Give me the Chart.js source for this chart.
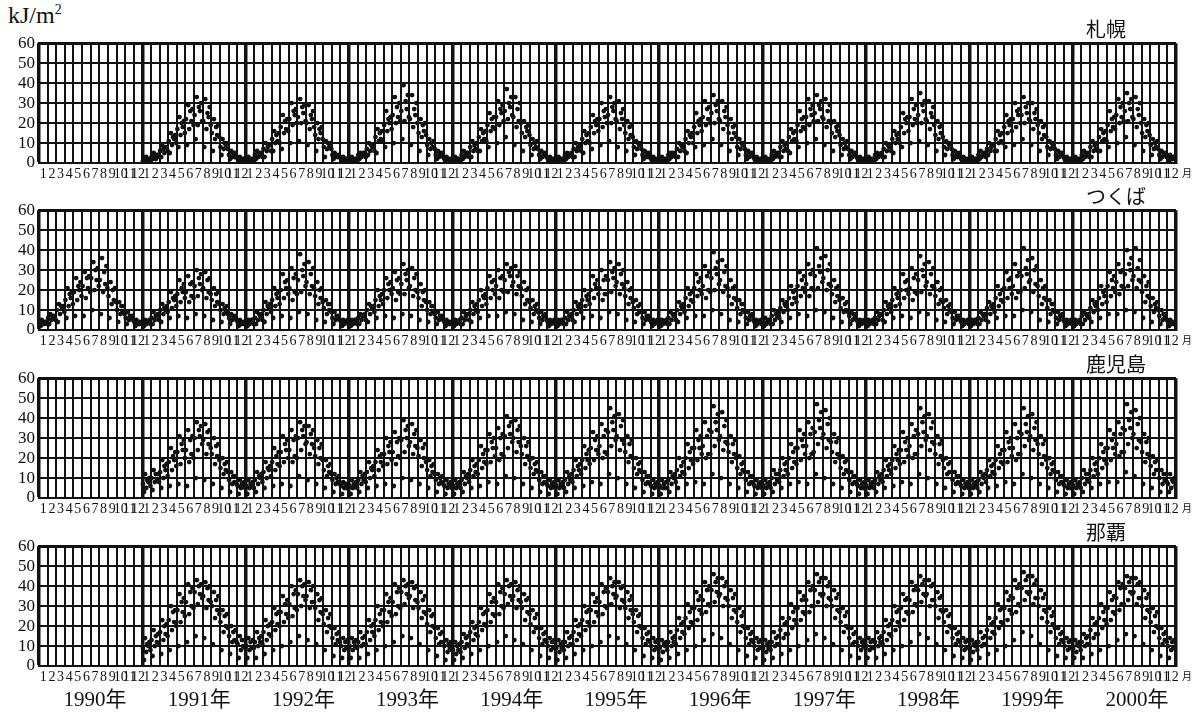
<!DOCTYPE html>
<html>
<head>
<meta charset="utf-8">
<script src="https://cdn.jsdelivr.net/npm/chart.js@4.4.1/dist/chart.umd.min.js"></script>
<style>
  html, body { margin: 0; padding: 0; background: #fff; }
  body { width: 1201px; height: 719px; position: relative; overflow: hidden; }
  .panel { position: absolute; left: 0; width: 1201px; }
  .txt { position: absolute; color: #111; white-space: nowrap; }
  .serif { font-family: "Liberation Serif", "Noto Sans CJK JP", serif; }
  .jp { font-family: "Noto Sans CJK JP", sans-serif; }
</style>
</head>
<body>

<div class="txt serif" style="left:8px; top:2px; font-size:24px;">kJ/m<sup style="font-size:14px;">2</sup></div>

<div id="panels"></div>
<div id="labels"></div>

<script>
// daily values per month (kJ/m2); one array of months per year
const yearLabels = ['1990年', '1991年', '1992年', '1993年', '1994年', '1995年',
  '1996年', '1997年', '1998年', '1999年', '2000年'];
const monthLabels = ['1', '2', '3', '4', '5', '6', '7', '8', '9', '10', '11', '12'];
const stationNames = ['札幌', 'つくば', '鹿児島', '那覇'];

const noData = [[], [], [], [], [], [], [], [], [], [], [], []];

const sapporo = [
  noData, // 1990
  [[1,2,1,3,2,1,2,1],[3,2,5,4,2,4,4,3],[6,3,9,7,5,8,8,6],[11,5,15,9,13,12,14,10],[17,8,23,14,20,18,21,15],[22,9,29,17,26,21,27,19],[24,12,33,19,28,26,30,21],[21,8,32,17,25,23,28,19],[15,6,22,12,18,14,19,13],[8,4,12,7,10,9,10,7],[4,2,6,3,5,3,5,3],[2,1,3,2,1,2,2,1]],
  [[2,1,3,2,1,2,2,1],[4,2,6,3,5,4,5,3],[7,3,10,6,8,9,9,6],[12,6,16,10,14,11,15,10],[18,7,24,15,21,17,22,16],[22,10,30,19,26,24,27,20],[23,11,32,20,28,25,29,21],[20,9,29,17,24,22,26,18],[14,6,20,12,17,15,18,12],[8,3,11,7,10,8,10,7],[4,2,5,3,4,3,4,3],[2,1,3,1,2,2,2,1]],
  [[2,1,3,2,1,2,2,1],[4,2,5,3,4,5,5,3],[7,4,10,6,9,8,9,6],[13,5,17,11,15,12,16,11],[19,8,26,16,22,20,23,17],[24,10,33,20,28,23,30,21],[26,12,39,21,31,27,34,23],[22,9,34,18,27,24,30,20],[15,6,22,13,19,16,20,14],[9,4,12,7,10,8,11,7],[4,2,6,3,5,4,5,3],[2,1,3,2,2,1,2,1]],
  [[2,1,3,1,2,2,2,1],[4,2,6,3,4,5,5,3],[8,3,11,6,9,7,10,6],[13,6,17,11,15,12,16,11],[19,8,25,16,22,18,23,17],[23,10,31,19,27,25,29,21],[26,13,37,22,30,28,33,24],[23,9,33,18,27,21,30,20],[15,6,21,13,18,16,19,14],[9,4,12,7,10,8,11,7],[4,2,6,3,5,4,5,3],[2,1,3,2,1,2,2,1]],
  [[2,1,3,2,1,2,2,1],[4,2,5,3,4,4,5,3],[7,3,10,6,8,8,9,6],[12,5,16,10,14,11,15,10],[18,7,24,15,21,19,22,16],[22,9,30,18,26,23,27,20],[24,11,33,20,28,26,30,22],[21,8,31,17,25,22,27,19],[15,6,21,12,18,14,19,13],[8,4,11,7,10,9,10,7],[4,2,6,3,5,3,5,3],[2,1,3,2,2,1,2,1]],
  [[2,1,3,2,1,2,2,1],[4,2,5,3,5,4,5,3],[7,3,10,6,9,8,9,6],[12,5,16,10,14,13,15,10],[18,8,25,15,21,19,22,16],[23,9,31,19,27,22,28,20],[25,12,34,20,29,26,31,22],[21,9,31,17,26,23,28,19],[15,6,22,12,18,15,19,13],[8,4,12,7,10,9,10,7],[4,2,6,3,5,4,5,3],[2,1,3,2,1,2,2,1]],
  [[2,1,3,2,2,1,2,1],[4,2,6,3,4,5,5,3],[8,3,11,6,9,7,10,6],[13,5,17,11,15,12,16,11],[19,8,26,16,22,18,23,17],[23,10,32,19,27,24,29,21],[25,12,34,21,29,27,31,23],[22,9,32,18,26,21,29,20],[15,6,21,13,18,16,19,14],[9,4,12,7,10,8,11,7],[4,2,6,3,5,4,5,3],[2,1,3,2,1,2,2,1]],
  [[2,1,3,2,1,2,2,1],[4,2,5,3,4,4,5,3],[7,3,10,6,9,8,9,6],[12,5,16,10,14,12,15,10],[18,8,25,15,22,20,23,16],[23,10,32,19,27,22,29,20],[24,11,35,20,29,26,31,22],[21,9,31,17,25,23,28,19],[14,6,21,12,18,15,19,13],[8,4,11,7,10,9,10,7],[4,2,6,3,5,3,5,3],[2,1,3,2,2,1,2,1]],
  [[2,1,3,2,1,2,2,1],[4,2,6,3,4,5,5,3],[7,4,10,6,8,9,9,6],[12,6,16,10,14,11,15,10],[18,8,24,15,21,19,22,16],[22,9,30,18,26,24,27,20],[24,12,33,20,28,25,30,22],[21,9,30,17,25,22,27,19],[15,6,21,12,18,14,19,13],[8,4,11,7,10,8,10,7],[4,2,6,3,5,4,5,3],[2,1,3,2,1,2,2,1]],
  [[2,1,3,2,1,2,2,1],[4,2,6,3,5,4,5,3],[8,3,11,6,9,7,10,6],[13,6,17,11,15,12,16,11],[19,8,26,16,22,18,23,17],[24,10,32,20,28,23,30,21],[26,13,35,21,30,27,32,23],[22,9,33,18,27,24,30,20],[15,6,22,13,19,16,20,14],[9,4,12,7,10,8,11,7],[4,2,6,3,5,4,5,3],[3,1,4,2,2,3,3,2]]
];

const tsukuba = [
  [[3,2,5,4,3,4,4,3],[6,3,8,5,7,6,7,5],[10,4,13,8,12,11,12,9],[15,6,21,12,18,16,19,13],[19,7,26,15,22,20,24,17],[22,7,29,16,26,21,27,19],[26,10,34,20,30,25,31,22],[25,8,36,19,29,23,32,21],[17,6,24,13,20,15,21,14],[10,4,14,8,12,9,12,8],[6,3,9,5,7,6,7,5],[4,2,5,3,4,3,4,3]],
  [[4,2,5,3,4,4,5,3],[6,3,9,5,7,7,8,5],[10,4,13,8,11,10,12,9],[14,6,19,11,16,15,17,12],[18,7,25,14,21,19,23,16],[19,6,27,14,23,17,24,16],[22,8,30,17,26,23,28,20],[21,7,29,16,25,19,26,18],[15,5,21,12,18,14,19,13],[10,4,13,8,11,9,12,8],[6,3,8,5,7,6,7,5],[4,2,5,3,4,3,4,3]],
  [[4,2,5,3,4,5,5,3],[6,3,9,5,8,7,8,5],[10,4,14,8,12,11,13,9],[15,6,21,12,18,16,19,13],[20,7,28,16,24,21,25,18],[21,6,31,15,26,19,28,18],[25,9,38,19,30,27,33,22],[24,8,34,18,28,22,31,21],[17,5,24,13,20,16,21,14],[11,4,15,8,13,10,13,9],[6,3,9,5,7,6,7,5],[4,2,5,3,4,4,5,3]],
  [[4,2,5,3,4,5,5,3],[6,3,8,5,7,7,8,5],[10,4,13,8,12,11,12,9],[15,6,20,12,17,15,18,13],[20,7,26,16,23,20,24,18],[21,6,29,15,25,19,26,18],[23,8,33,18,28,25,30,21],[22,7,31,17,26,20,28,19],[16,5,23,12,19,15,20,14],[10,4,14,8,12,9,12,8],[6,3,9,5,7,6,7,5],[4,2,5,3,4,3,4,3]],
  [[4,2,5,3,4,4,5,3],[6,3,9,5,7,8,8,5],[10,4,14,8,12,10,13,9],[15,6,20,12,17,16,18,13],[21,7,27,16,24,20,25,18],[22,7,30,16,26,20,27,19],[25,9,33,19,29,27,31,22],[24,8,32,18,27,22,29,21],[17,5,24,13,20,15,21,14],[11,4,15,8,12,10,13,9],[6,3,9,5,7,7,8,5],[4,2,5,3,4,4,5,3]],
  [[4,2,5,3,4,5,5,3],[6,3,9,5,7,7,8,5],[10,4,14,8,12,11,13,9],[15,6,20,12,17,15,18,13],[20,7,27,16,23,21,25,18],[21,6,30,15,25,18,27,18],[25,9,34,19,29,26,31,22],[24,8,33,18,28,23,30,21],[17,5,24,13,20,16,21,14],[11,4,15,8,12,9,13,9],[6,3,9,5,7,6,7,5],[4,2,5,3,4,4,5,3]],
  [[4,2,5,3,4,4,5,3],[6,3,9,5,8,7,8,5],[10,4,14,8,12,11,13,9],[16,6,21,12,18,15,19,14],[21,7,28,17,24,20,26,18],[22,7,32,16,27,20,29,19],[26,10,39,20,31,28,34,23],[25,8,35,19,29,22,32,21],[17,5,25,13,21,16,22,15],[11,4,15,8,13,10,13,9],[6,3,9,5,7,7,8,5],[4,2,5,3,4,4,5,3]],
  [[4,2,6,3,4,5,5,3],[7,3,10,5,8,7,9,6],[11,4,15,9,13,12,14,10],[16,6,22,13,19,16,20,14],[22,8,29,17,25,21,27,19],[23,7,33,17,28,21,30,20],[27,10,41,21,32,29,36,24],[26,9,37,20,30,23,33,22],[18,6,25,14,21,17,22,15],[11,4,16,9,13,10,14,9],[7,3,9,5,8,6,8,5],[4,2,5,3,4,4,5,3]],
  [[4,2,5,3,4,4,5,3],[6,3,9,5,7,8,8,5],[10,4,14,8,12,11,13,9],[15,6,21,12,18,16,19,13],[20,7,28,16,24,20,25,18],[21,6,31,15,26,19,28,18],[25,9,37,19,30,27,33,22],[24,8,34,18,28,22,31,21],[17,5,24,13,20,15,21,14],[11,4,15,8,12,10,13,9],[6,3,9,5,7,6,7,5],[4,2,5,3,4,4,5,3]],
  [[4,2,5,3,4,5,5,3],[6,3,9,5,8,7,8,5],[11,4,14,8,12,11,13,9],[16,6,22,12,18,15,20,14],[21,7,29,16,25,21,26,18],[22,7,33,16,27,19,29,19],[27,10,41,21,31,28,35,24],[25,9,36,19,30,23,32,22],[17,5,25,13,21,16,22,15],[11,4,15,8,13,10,13,9],[6,3,9,5,7,7,8,5],[4,2,5,3,4,4,5,3]],
  [[4,2,5,3,4,4,5,3],[7,3,9,5,8,7,8,6],[11,4,15,9,13,12,14,10],[16,6,22,13,19,17,20,14],[22,8,29,17,25,21,27,19],[24,8,33,18,29,22,30,21],[28,10,40,22,33,30,36,25],[27,9,41,21,31,25,35,24],[19,6,27,14,22,17,24,16],[12,4,16,9,13,11,14,10],[7,3,10,5,8,6,8,5],[4,2,5,3,4,3,4,3]]
];

const kagoshima = [
  noData, // 1990
  [[7,3,12,5,9,8,10,6],[10,4,14,8,12,9,12,8],[13,5,19,10,16,14,17,11],[18,6,25,14,21,19,23,16],[23,7,31,17,27,24,29,20],[24,6,34,18,29,22,31,20],[30,10,38,24,34,31,36,27],[29,9,37,22,33,27,34,25],[22,7,30,17,26,21,27,19],[15,5,20,12,17,14,18,13],[9,3,13,7,11,8,11,7],[6,2,9,5,7,6,8,5]],
  [[6,2,9,5,7,6,8,5],[9,3,13,7,11,10,12,8],[13,5,18,10,15,14,16,11],[18,6,25,14,21,17,23,16],[23,7,31,18,27,24,29,20],[24,6,34,18,29,21,31,20],[30,11,38,24,34,31,36,27],[28,9,36,22,32,27,34,25],[21,7,29,17,25,20,27,19],[14,5,19,11,16,13,17,12],[9,3,12,7,10,8,11,7],[6,2,8,5,7,5,7,5]],
  [[6,2,9,5,7,6,8,5],[9,3,13,7,11,9,12,8],[13,5,18,10,15,14,16,11],[18,6,24,14,21,18,22,16],[22,7,30,17,26,23,28,19],[23,6,33,17,28,21,30,20],[29,10,39,23,34,30,36,26],[28,9,37,22,32,26,34,25],[21,7,29,16,25,20,27,18],[14,5,19,11,16,13,17,12],[9,3,12,7,10,8,11,7],[6,2,9,5,7,6,8,5]],
  [[6,2,9,5,7,6,8,5],[9,3,13,7,11,10,12,8],[14,5,19,11,16,13,17,12],[19,6,26,15,22,18,24,17],[24,8,32,18,28,25,30,21],[25,7,35,19,30,22,32,21],[31,11,41,25,36,32,38,28],[30,10,39,23,34,28,36,26],[22,7,30,17,26,21,28,19],[15,5,20,12,17,14,18,13],[9,3,13,7,11,8,11,7],[6,2,9,5,7,6,8,5]],
  [[6,2,9,5,7,6,8,5],[9,3,13,7,11,9,12,8],[14,5,19,11,16,14,17,12],[19,6,26,15,22,19,24,17],[25,8,33,19,29,24,31,22],[26,7,37,20,31,23,34,22],[33,12,45,26,38,34,41,29],[31,10,42,24,36,29,39,27],[23,7,31,18,27,21,29,20],[15,5,20,12,17,14,18,13],[9,3,13,7,11,8,11,7],[6,2,9,5,7,6,8,5]],
  [[6,2,9,5,7,5,8,5],[9,3,13,7,11,10,12,8],[14,5,20,11,16,13,18,12],[20,7,27,15,23,19,25,17],[25,8,34,19,29,25,31,22],[26,7,38,20,31,22,34,22],[33,12,46,26,38,34,42,29],[31,10,43,24,36,28,39,27],[23,7,31,18,27,22,29,20],[15,5,21,12,17,14,18,13],[9,3,13,7,11,8,11,7],[6,2,9,5,7,6,8,5]],
  [[6,2,9,5,7,6,8,5],[10,3,14,7,12,9,12,8],[14,5,20,11,17,14,18,12],[20,7,27,15,23,18,25,17],[25,8,34,19,29,26,32,22],[26,7,38,20,32,22,35,23],[33,12,47,27,39,35,43,30],[32,10,44,25,37,29,40,28],[23,7,32,18,28,22,30,20],[15,5,21,12,18,14,19,13],[9,3,13,7,11,8,11,7],[6,2,9,5,7,5,8,5]],
  [[6,2,9,5,7,6,8,5],[9,3,13,7,11,9,12,8],[14,5,19,11,16,14,17,12],[19,6,26,15,22,19,24,17],[24,8,33,18,28,24,30,21],[26,7,37,20,31,22,34,22],[32,12,45,26,38,33,41,29],[31,10,42,24,35,28,38,27],[22,7,31,17,27,21,29,19],[15,5,20,12,17,13,18,13],[9,3,13,7,11,8,11,7],[6,2,9,5,7,6,8,5]],
  [[6,2,9,5,7,6,8,5],[9,3,13,7,11,10,12,8],[14,5,19,11,16,13,17,12],[19,6,26,15,22,18,24,17],[24,8,33,18,28,25,30,21],[25,7,37,19,30,22,33,22],[32,12,45,26,37,33,41,29],[31,10,42,24,35,29,38,27],[22,7,31,17,27,21,29,19],[15,5,20,12,17,14,18,13],[9,3,13,7,11,8,11,7],[6,2,9,5,7,5,8,5]],
  [[6,2,9,5,7,6,8,5],[10,3,14,7,12,9,12,8],[14,5,20,11,17,14,18,12],[20,7,27,15,23,19,25,17],[25,8,34,19,29,25,32,22],[27,8,38,21,32,23,35,23],[34,13,47,27,39,35,43,30],[32,11,44,25,37,29,40,28],[23,7,32,18,28,22,30,20],[16,5,21,12,18,14,19,14],[10,3,14,7,12,9,12,8],[7,3,12,5,9,8,10,6]]
];

const naha = [
  noData, // 1990
  [[9,3,14,7,11,10,12,8],[13,5,18,10,15,12,16,11],[17,6,23,13,20,16,21,15],[23,8,30,18,27,22,28,20],[28,10,36,22,32,27,34,25],[32,12,41,26,37,30,39,29],[37,15,43,31,40,36,41,34],[35,14,42,29,39,33,40,32],[30,11,37,24,33,28,35,26],[22,8,28,17,25,20,26,19],[15,6,20,12,17,13,18,12],[11,4,15,8,13,10,13,9]],
  [[10,4,14,8,12,9,13,9],[12,4,17,10,14,12,15,11],[17,6,23,13,20,16,21,15],[22,8,29,18,26,21,27,20],[27,10,35,22,31,26,33,24],[31,12,40,25,36,29,38,28],[36,15,43,30,40,35,41,33],[35,13,42,29,38,32,40,32],[29,11,36,23,33,27,34,26],[21,8,28,17,24,20,26,19],[14,5,19,11,16,13,17,12],[10,4,14,8,12,9,13,9]],
  [[10,4,14,8,12,10,13,9],[12,4,17,10,14,11,15,11],[17,6,23,13,20,17,21,15],[23,8,30,18,26,22,28,20],[28,10,36,22,32,27,34,25],[32,12,41,26,37,30,39,29],[37,15,43,31,40,36,41,34],[35,14,42,29,39,33,40,32],[29,11,37,24,33,27,35,26],[21,8,28,17,25,20,26,19],[14,5,19,11,16,12,17,12],[10,3,13,7,11,9,12,8]],
  [[8,3,12,6,10,8,11,7],[12,4,16,9,14,11,15,10],[17,6,22,13,19,16,20,15],[22,8,29,18,26,21,27,20],[28,10,36,22,32,26,34,25],[32,12,41,26,37,30,39,29],[36,15,43,31,40,35,41,33],[35,13,42,29,38,33,40,32],[29,11,36,23,33,27,34,26],[21,8,28,17,24,19,26,19],[14,5,19,11,16,13,17,12],[10,4,14,8,12,9,13,9]],
  [[9,3,13,7,11,9,12,8],[12,4,17,10,14,11,15,11],[17,6,23,13,20,16,21,15],[23,8,30,18,27,22,28,20],[28,10,36,22,32,27,34,25],[32,12,41,26,37,30,39,29],[37,15,44,31,40,36,42,34],[35,14,42,29,39,33,40,32],[29,11,37,24,33,28,35,26],[22,8,28,17,25,20,26,19],[14,5,19,11,16,13,17,12],[10,4,14,8,12,9,13,9]],
  [[9,3,13,7,11,10,12,8],[12,4,17,10,14,12,15,11],[18,6,24,14,21,17,22,16],[24,8,31,19,27,22,29,21],[29,10,37,23,33,28,35,26],[33,13,42,27,38,31,40,30],[38,16,46,32,42,37,44,35],[36,14,44,30,40,34,42,33],[30,11,38,24,34,28,36,27],[22,8,29,17,25,20,27,19],[14,5,19,11,16,13,17,12],[10,4,14,8,12,9,13,9]],
  [[9,3,13,7,11,9,12,8],[12,4,17,10,14,11,15,11],[18,6,24,14,21,16,22,16],[24,8,31,19,27,23,29,21],[29,10,37,23,33,27,35,26],[33,13,42,27,38,30,40,30],[38,16,46,32,42,36,44,35],[36,14,44,30,40,34,42,33],[30,11,38,24,34,28,36,27],[22,8,29,17,25,20,27,19],[14,5,19,11,16,12,17,12],[10,4,14,8,12,10,13,9]],
  [[10,4,14,8,12,9,13,9],[12,4,17,10,14,12,15,11],[17,6,23,13,20,16,21,15],[23,8,30,18,27,22,28,20],[29,10,36,23,33,27,34,26],[33,12,42,27,38,31,40,30],[38,16,45,32,41,36,43,35],[36,14,43,30,40,33,41,33],[30,11,37,24,34,28,35,27],[22,8,28,17,25,20,26,19],[14,5,19,11,16,13,17,12],[10,4,14,8,12,9,13,9]],
  [[9,3,13,7,11,10,12,8],[12,4,17,10,14,11,15,11],[18,6,24,14,21,17,22,16],[24,8,31,19,28,22,29,21],[29,10,37,23,33,28,35,26],[34,13,43,27,39,31,41,30],[39,17,47,33,43,37,45,36],[37,15,45,31,41,34,43,34],[30,11,38,24,34,28,36,27],[22,8,29,17,25,21,27,19],[14,5,19,11,16,13,17,12],[10,4,14,8,12,9,13,9]],
  [[9,4,13,7,11,10,12,8],[12,4,16,10,14,11,15,11],[18,6,24,14,21,16,22,16],[24,8,31,19,27,23,29,21],[29,10,37,23,33,27,35,26],[34,13,42,28,39,31,41,31],[39,16,45,33,42,37,44,36],[37,15,44,31,41,34,42,34],[30,11,38,24,34,28,36,27],[22,8,29,17,25,20,27,19],[14,5,19,11,16,13,17,12],[10,4,14,8,12,9,13,9]]
];

const stations = [sapporo, tsukuba, kagoshima, naha];

/* ─────────────────────────────────────────────
   Layout
───────────────────────────────────────────── */

const panelTops = [41, 208, 376, 544];
const plotHeight = 122;
const plotLeft = 39;
const plotRight = 1176;
const topPad = 12;
const axisHeight = 22;
const ink = '#111';

function toPoints(station) {
  const pts = [];
  station.forEach((year, yi) => {
    year.forEach((vals, mi) => {
      vals.forEach((v, k) => {
        pts.push({ x: yi * 12 + mi + (k + 0.5) / vals.length, y: v });
      });
    });
  });
  return pts;
}

function monthTicks(scale) {
  const ticks = [];
  const total = yearLabels.length * 12;
  for (let i = 0; i <= total; i++) {
    ticks.push({ value: i });
    if (i < total) ticks.push({ value: i + 0.5 });
  }
  scale.ticks = ticks;
}

function renderPanel(idx) {
  const wrap = document.createElement('div');
  wrap.className = 'panel';
  wrap.style.top = (panelTops[idx] - topPad) + 'px';
  wrap.style.height = (topPad + plotHeight + axisHeight) + 'px';
  const canvas = document.createElement('canvas');
  canvas.width = 1201;
  canvas.height = topPad + plotHeight + axisHeight;
  wrap.appendChild(canvas);
  document.getElementById('panels').appendChild(wrap);

  new Chart(canvas, {
    type: 'scatter',
    data: {
      datasets: [{
        data: toPoints(stations[idx]),
        backgroundColor: ink,
        borderWidth: 0,
        pointRadius: 2.4,
        pointHoverRadius: 2.4
      }]
    },
    options: {
      responsive: false,
      animation: false,
      events: [],
      layout: { padding: { top: topPad, right: 1201 - plotRight, left: 0, bottom: 0 } },
      plugins: { legend: { display: false }, tooltip: { enabled: false } },
      scales: {
        x: {
          type: 'linear',
          min: 0,
          max: yearLabels.length * 12,
          afterBuildTicks: monthTicks,
          afterFit: s => { s.height = axisHeight; },
          border: { display: true, color: ink, width: 2 },
          grid: {
            drawTicks: false,
            color: c => Number.isInteger(c.tick.value) ? ink : 'rgba(0,0,0,0)',
            lineWidth: c => (c.tick.value % 12 === 0 ? 3.5 : 2)
          },
          ticks: {
            autoSkip: false,
            maxRotation: 0,
            minRotation: 0,
            padding: 3,
            color: ink,
            font: { family: 'Liberation Serif', size: 14 },
            callback: v => Number.isInteger(v) ? '' : monthLabels[Math.floor(v) % 12]
          }
        },
        y: {
          min: 0,
          max: 60,
          afterFit: s => { s.width = plotLeft; },
          border: { display: true, color: ink, width: 2 },
          grid: {
            drawTicks: false,
            color: ink,
            lineWidth: c => (c.tick.value === 60 ? 3 : 2)
          },
          ticks: {
            stepSize: 10,
            autoSkip: false,
            padding: 4,
            color: ink,
            font: { family: 'Liberation Serif', size: 17 }
          }
        }
      }
    }
  });

  // station name and the 月 unit
  const name = document.createElement('div');
  name.className = 'txt jp';
  name.style.cssText = `left:1086px; top:${panelTops[idx] - 27}px; font-size:20px;`;
  name.textContent = stationNames[idx];
  document.getElementById('labels').appendChild(name);

  const unit = document.createElement('div');
  unit.className = 'txt jp';
  unit.style.cssText = `left:1182px; top:${panelTops[idx] + plotHeight + 2}px; font-size:10px;`;
  unit.textContent = '月';
  document.getElementById('labels').appendChild(unit);
}

function renderYearLabels() {
  yearLabels.forEach((label, i) => {
    const d = document.createElement('div');
    d.className = 'txt serif';
    d.style.cssText = `left:${95 + i * 104.2}px; top:682px; font-size:21px; transform:translateX(-50%);`;
    d.textContent = label;
    document.getElementById('labels').appendChild(d);
  });
}

stations.forEach((s, i) => renderPanel(i));
renderYearLabels();
</script>
</body>
</html>
